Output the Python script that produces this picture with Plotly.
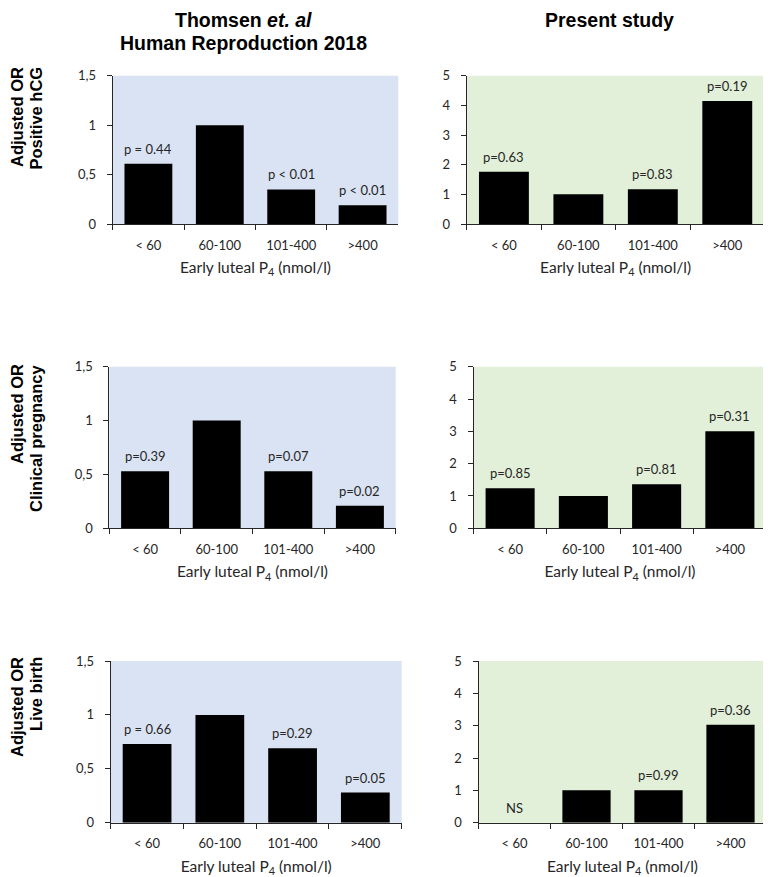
import plotly.graph_objects as go

categories = ["< 60", "60-100", "101-400", ">400"]

# Thomsen et al. (left column)
thomsen_hcg = [0.61, 1.0, 0.35, 0.19]
thomsen_hcg_p = ["p = 0.44", "", "p < 0.01", "p < 0.01"]
thomsen_clin = [0.53, 1.0, 0.53, 0.21]
thomsen_clin_p = ["p=0.39", "", "p=0.07", "p=0.02"]
thomsen_live = [0.73, 1.0, 0.69, 0.28]
thomsen_live_p = ["p = 0.66", "", "p=0.29", "p=0.05"]

# Present study (right column)
present_hcg = [1.76, 1.0, 1.17, 4.15]
present_hcg_p = ["p=0.63", "", "p=0.83", "p=0.19"]
present_clin = [1.24, 1.0, 1.36, 3.0]
present_clin_p = ["p=0.85", "", "p=0.81", "p=0.31"]
present_live = [None, 1.0, 1.0, 3.03]
present_live_p = ["NS", "", "p=0.99", "p=0.36"]

row_label_top = "Adjusted OR"
row_label_bottom = ["Positive hCG", "Clinical pregnancy", "Live birth"]
left_range = [0, 1.5]
right_range = [0, 5]
x_title = "Early luteal P<sub>4</sub> (nmol/l)"

W, H = 771, 877
OFF = 8  # the page body margin shifts the figure by 8px

def fx(x):
    return (x - OFF) / W
def fy(y):
    return 1 - (y - OFF) / H
def px_x(a, b):
    return [fx(a), fx(b)]
def px_y(top, bottom):
    return [fy(bottom), fy(top)]

panels = [
    dict(vals=thomsen_hcg, ptxt=thomsen_hcg_p, rng=left_range, dtick=0.5, bg="#DAE3F3",
         xd=px_x(112.7, 398.3), yd=px_y(75.7, 224)),
    dict(vals=present_hcg, ptxt=present_hcg_p, rng=right_range, dtick=1, bg="#E2F0D9",
         xd=px_x(466.7, 764.5), yd=px_y(75.7, 224)),
    dict(vals=thomsen_clin, ptxt=thomsen_clin_p, rng=left_range, dtick=0.5, bg="#DAE3F3",
         xd=px_x(109.3, 395.7), yd=px_y(366.7, 528.3)),
    dict(vals=present_clin, ptxt=present_clin_p, rng=right_range, dtick=1, bg="#E2F0D9",
         xd=px_x(473.5, 766.5), yd=px_y(366.7, 528.3)),
    dict(vals=thomsen_live, ptxt=thomsen_live_p, rng=left_range, dtick=0.5, bg="#DAE3F3",
         xd=px_x(110.7, 401.7), yd=px_y(661, 822.7)),
    dict(vals=present_live, ptxt=present_live_p, rng=right_range, dtick=1, bg="#E2F0D9",
         xd=px_x(478.5, 766.5), yd=px_y(661, 822.7)),
]

FONT = "Lato, Open Sans, sans-serif"
BOLD = "Liberation Sans, Arial, sans-serif"
tick_font = dict(family=FONT, size=13, color="#262626")
fig = go.Figure()
shapes = []
annotations = []
layout = {}

for i, p in enumerate(panels):
    n = i + 1
    xa = "x" if n == 1 else f"x{n}"
    ya = "y" if n == 1 else f"y{n}"
    fig.add_trace(go.Bar(x=categories, y=p["vals"], xaxis=xa, yaxis=ya,
                         marker=dict(color="black", line=dict(width=0)),
                         showlegend=False, hoverinfo="skip"))
    layout["xaxis" if n == 1 else f"xaxis{n}"] = dict(
        domain=p["xd"], anchor=ya, type="category",
        categoryorder="array", categoryarray=categories,
        tickson="boundaries", ticks="outside", ticklen=5, tickcolor="#262626",
        showline=True, linecolor="#262626", linewidth=1, showgrid=False,
        tickfont=tick_font, ticklabelstandoff=9, automargin=False,
        title=dict(text=x_title, font=dict(family=FONT, size=15.5, color="#262626"),
                   standoff=10),
        fixedrange=True,
    )
    layout["yaxis" if n == 1 else f"yaxis{n}"] = dict(
        domain=p["yd"], anchor=xa, range=p["rng"], dtick=p["dtick"],
        ticks="outside", ticklen=5, tickcolor="#262626",
        showline=True, linecolor="#262626", linewidth=1, showgrid=False, zeroline=False,
        tickfont=tick_font, ticklabelstandoff=8, fixedrange=True, automargin=False,
    )
    shapes.append(dict(type="rect", xref=f"{xa} domain", yref=f"{ya} domain",
                       x0=0, x1=1, y0=0, y1=1, fillcolor=p["bg"], line=dict(width=0),
                       layer="below"))
    for c, v, t in zip(categories, p["vals"], p["ptxt"]):
        if not t:
            continue
        annotations.append(dict(x=c, y=(v if v is not None else 0), xref=xa, yref=ya,
                                text=t, showarrow=False, yanchor="bottom", yshift=5,
                                font=dict(family=FONT, size=13, color="#262626")))

# Row labels (two rotated lines, aligned at their top end)
row_tops = [65, 362, 655]
for lab2, yt in zip(row_label_bottom, row_tops):
    for txt, xc in ((row_label_top, 17), (lab2, 36)):
        annotations.append(dict(x=fx(xc), y=fy(yt), xref="paper", yref="paper",
                                text=f"<b>{txt}</b>", textangle=-90,
                                showarrow=False, xanchor="center", yanchor="top",
                                font=dict(family=BOLD, size=16.5, color="black")))

# Column titles (top line kept inside the figure so it is not clipped)
title_font = dict(family=BOLD, size=19.5, color="black")
annotations.append(dict(x=fx(243), y=1, xref="paper", yref="paper",
                        text="<b>Thomsen <i>et. al</i></b>", borderpad=0,
                        showarrow=False, xanchor="center", yanchor="top", font=title_font))
annotations.append(dict(x=fx(243), y=fy(31), xref="paper", yref="paper",
                        text="<b>Human Reproduction 2018</b>", borderpad=0,
                        showarrow=False, xanchor="center", yanchor="top", font=title_font))
annotations.append(dict(x=fx(609), y=1, xref="paper", yref="paper",
                        text="<b>Present study</b>", borderpad=0,
                        showarrow=False, xanchor="center", yanchor="top", font=title_font))

fig.update_layout(**layout)
fig.update_layout(width=W, height=H, margin=dict(l=0, r=0, t=0, b=0, pad=0, autoexpand=False),
                  paper_bgcolor="white", plot_bgcolor="rgba(0,0,0,0)",
                  bargap=0.33, separators=",.", shapes=shapes, annotations=annotations)

fig.write_html("out.html")
